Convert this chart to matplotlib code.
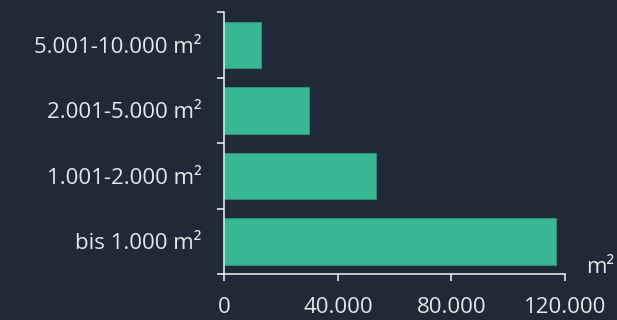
import matplotlib.pyplot as plt
from matplotlib.ticker import FixedLocator

categories = ['bis 1.000 m²', '1.001-2.000 m²', '2.001-5.000 m²', '5.001-10.000 m²']
values = [117000, 53400, 30000, 13000]
xticks = [0, 40000, 80000, 120000]
xticklabels = ['0', '40.000', '80.000', '120.000']

bg = '#1f2937'
fg = '#e5e7eb'
axcol = '#f5f5f5'

plt.rcParams['font.family'] = ['Open Sans', 'DejaVu Sans']
fig = plt.figure(figsize=(6.17, 3.2), dpi=100, facecolor=bg)
ax = fig.add_axes([224.3 / 617, 46 / 320, 340.7 / 617, 261.7 / 320], facecolor=bg)

ax.barh(range(len(categories)), values, height=0.714, color='#38b795',
        edgecolor='#2c9077', linewidth=0.8)

ax.set_xlim(0, 120000)
ax.set_ylim(-0.5, len(categories) - 0.5)

ax.set_xticks(xticks)
ax.set_xticklabels(xticklabels)
ax.set_yticks(range(len(categories)))
ax.set_yticklabels(categories)
ax.yaxis.set_minor_locator(FixedLocator([i - 0.5 for i in range(len(categories) + 1)]))

ax.tick_params(axis='x', color=axcol, labelcolor=fg, labelsize=16, length=5, width=1.1, pad=11.5)
ax.tick_params(axis='y', which='major', labelcolor=fg, labelsize=16, length=0, pad=16.5)
ax.tick_params(axis='y', which='minor', color=axcol, length=5, width=1.1)

for s in ['top', 'right']:
    ax.spines[s].set_visible(False)
for s in ['left', 'bottom']:
    ax.spines[s].set_color(axcol)
    ax.spines[s].set_linewidth(1.1)

# unit label at the right end of the x axis
fig.text(614 / 617, (320 - 273.3) / 320, 'm²', color=fg, fontsize=16, va='baseline', ha='right')

plt.savefig('out.png', dpi=100, facecolor=bg)
